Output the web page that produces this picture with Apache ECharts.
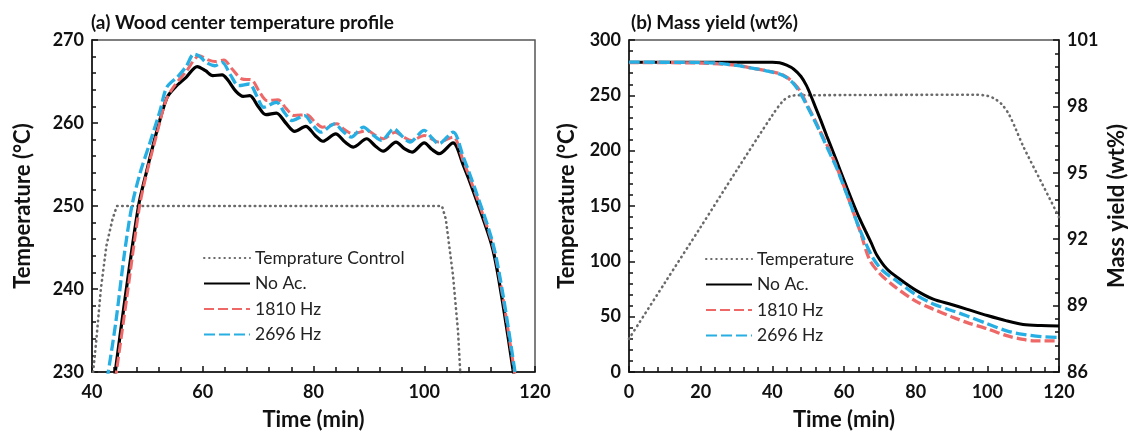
<!DOCTYPE html>
<html>
<head>
<meta charset="utf-8">
<script src="https://cdn.jsdelivr.net/npm/echarts@6/dist/echarts.min.js"></script>
<style>
html,body{margin:0;padding:0;background:#fff;}
#chart{width:1131px;height:436px;}
</style>
</head>
<body>
<div id="chart"></div>
<script>
// ---------- Panel (a): Wood center temperature profile ----------
const controlA = [[40.2,230],[40.8,234],[41.6,240],[42.6,245.2],[43.7,248.4],[44.5,250],[103.2,250],[103.9,248.4],[105.2,241.6],[106.1,234.9],[106.5,230],[106.7,228]];
const noAcA = [[44,229],[46,239],[48.4,250],[49.8,254],[51.5,258.5],[53.5,263],[55,264.3],[57,265.5],[59,266.8],[60.5,266.3],[61.8,265.7],[63.5,265.8],[64.5,265.2],[66,263.8],[67.3,263.2],[68.5,263.3],[70,262],[71.4,261],[73.3,261.2],[75,260],[76.6,259],[78.6,259.6],[80.3,258.5],[81.7,257.8],[84,258.7],[85.7,257.7],[87.2,257.1],[89.6,258.1],[91.2,257.2],[92.6,256.6],[94.9,257.7],[96.4,256.9],[97.8,256.5],[100,257.6],[101.4,256.8],[102.7,256.3],[105.2,257.6],[107,255],[109,251.5],[112.3,245],[114,239],[116.2,229.5]];
const hz1810A = [[44.2,229],[46.3,239],[48.6,250],[50,254.3],[51.6,258.4],[53.4,262.8],[55,264.6],[57,266.2],[59.4,268.1],[61,267.6],[62.2,267.4],[63.8,267.6],[65.3,266.5],[67.1,265.3],[68.8,265.2],[70.2,263.8],[71.6,262.7],[73.6,262.8],[75,261.8],[76.5,260.9],[78.8,261],[80.3,260.1],[81.6,259.5],[84.2,259.9],[85.6,259.2],[87.1,258.7],[89.7,259.1],[91.2,258.5],[92.6,258.1],[94.8,258.9],[96.3,258.3],[97.7,257.9],[100,258.5],[101.3,258.1],[102.6,257.7],[105.2,258.3],[107,255.5],[109.2,251.6],[112.4,245.2],[114.2,239],[116.4,229.5]];
const hz2696A = [[42.7,229],[44.3,236],[45.8,244],[47.2,250],[48.7,254],[50.5,257.7],[52.3,261.5],[53.5,264.3],[55.5,265.6],[57,266.8],[58.4,268.3],[59.5,268],[60.6,267.3],[62.2,266.9],[63.5,267.3],[65,265.8],[66.5,264.5],[68.4,264.7],[69.8,263.2],[71,261.9],[73.3,262.5],[74.8,261.2],[76.1,260.3],[78.4,260.9],[79.8,259.8],[81.3,258.9],[83.8,259.9],[85.3,259],[86.8,258.3],[89,259.5],[90.7,258.6],[92.3,257.9],[94.5,259.3],[96,258.4],[97.4,257.7],[100,259.1],[101.4,258.2],[102.6,257.5],[105.2,258.9],[107,256],[109.2,252],[112.4,245.5],[114.3,239],[116.5,229.5]];

// ---------- Panel (b): Mass yield ----------
const tempB = [[0,30],[10,80.6],[20,131],[30,182],[40,232],[43,245],[45,249.3],[47,250],[97,250.5],[100,249.5],[102,247],[104,242],[106,233],[108,219],[110,204],[115,172],[120,140]];
const noAcB = [[0,100],[40,100],[42,99.97],[44,99.86],[46,99.68],[48,99.35],[49.5,98.95],[50.6,98.55],[52,97.98],[53.5,97.38],[55.2,96.66],[57,95.93],[58.9,95.13],[60.8,94.33],[62.6,93.6],[64.3,92.95],[66,92.37],[67.6,91.83],[69.1,91.3],[72,90.65],[75.6,90.19],[80,89.7],[84.9,89.29],[90,89.05],[94.2,88.84],[100,88.55],[105.4,88.31],[110,88.15],[115,88.1],[120,88.08]];
const hz1810B = [[0,99.98],[20,99.96],[30,99.86],[34.7,99.72],[38,99.62],[42.1,99.48],[44,99.32],[45.8,99.08],[47.8,98.68],[49.6,98.1],[51.5,97.5],[53.3,96.9],[55.7,96.1],[58,95.25],[61,93.95],[64.5,92.35],[67.2,91.05],[70,90.45],[73.8,89.9],[80,89.2],[84.9,88.84],[90,88.5],[94.2,88.24],[100,87.95],[105.4,87.64],[110,87.47],[112.9,87.41],[120,87.41]];
const hz2696B = [[0,100],[20,99.98],[25,99.95],[30,99.85],[34.7,99.72],[38,99.62],[42.1,99.46],[44,99.3],[45.8,99.05],[47.8,98.6],[49.6,98.05],[51.5,97.45],[53.3,96.85],[55.7,96.0],[58,95.2],[61.2,93.85],[64.5,92.4],[68.2,91.12],[71,90.55],[74.7,90.12],[80,89.5],[84.9,89.07],[90,88.78],[94.2,88.54],[100,88.18],[105.4,87.86],[110,87.7],[115,87.6],[120,87.56]];

const FONT = 'Lato, "Open Sans", sans-serif';
const RED = '#EE6868';
const BLUE = '#27AEE2';
const GRAY = '#6a6a6a';

const chart = echarts.init(document.getElementById('chart'), null, {renderer: 'canvas'});

const tickLabel = {fontFamily: FONT, fontWeight: 'bold', fontSize: 18, color: '#111'};
const nameStyle = {fontFamily: FONT, fontWeight: 'bold', fontSize: 22, color: '#111'};

function xAx(gridIndex, min, max) {
  return {
    type: 'value', gridIndex, min, max, interval: 20,
    name: 'Time (min)', nameLocation: 'middle', nameGap: 37, nameTextStyle: nameStyle,
    axisLine: {show: true, lineStyle: {color: '#111', width: 1.5}},
    axisTick: {show: true, inside: true, length: 6, lineStyle: {color: '#111', width: 1.5}},
    minorTick: {show: true, splitNumber: 5, length: 5, lineStyle: {color: '#111', width: 1.5}},
    axisLabel: Object.assign({margin: 11}, tickLabel),
    splitLine: {show: false}
  };
}
function yAx(gridIndex, min, max, interval, name, position, nameGap) {
  return {
    type: 'value', gridIndex, min, max, interval, position,
    name, nameLocation: 'middle', nameGap, nameTextStyle: nameStyle,
    axisLine: {show: true, onZero: false, lineStyle: {color: '#111', width: 1.5}},
    axisTick: {show: true, inside: true, length: 6, lineStyle: {color: '#111', width: 1.5}},
    minorTick: {show: true, splitNumber: 5, length: 4, lineStyle: {color: '#111', width: 1.5}},
    axisLabel: Object.assign({margin: 8}, tickLabel),
    splitLine: {show: false}
  };
}

function lineSeries(name, data, xi, yi, color, type, width, smooth) {
  return {
    name, type: 'line', data, xAxisIndex: xi, yAxisIndex: yi,
    showSymbol: false, symbol: 'none', smooth: smooth,
    lineStyle: {color, width, type, cap: (Array.isArray(type) && type[0] < 2) ? 'round' : 'butt'},
    itemStyle: {color},
    emphasis: {disabled: true}, animation: false, z: 2
  };
}

const dotType = [0.5, 4.6];
const redDash = [10, 4];
const blueDash = [11, 4];

const legendBase = {
  orient: 'vertical', itemWidth: 46, itemHeight: 14, itemGap: 7.5,
  itemStyle: {opacity: 0},
  textStyle: {fontFamily: FONT, fontSize: 17.5, color: '#222'}, selectedMode: false
};

const option = {
  animation: false,
  backgroundColor: '#fff',
  title: [
    {text: '(a) Wood center temperature profile', left: 86, top: 8,
      textStyle: {fontFamily: FONT, fontWeight: 'bold', fontSize: 19, color: '#111'}},
    {text: '(b) Mass yield (wt%)', left: 626, top: 8,
      textStyle: {fontFamily: FONT, fontWeight: 'bold', fontSize: 19, color: '#111'}}
  ],
  grid: [
    {left: 92, right: 596, top: 40, bottom: 63, show: true, borderColor: '#555', borderWidth: 1.5},
    {left: 629, right: 72, top: 40, bottom: 63, show: true, borderColor: '#555', borderWidth: 1.5}
  ],
  legend: [
    Object.assign({left: 198, top: 244, data: ['Temprature Control', 'No Ac.', '1810 Hz', '2696 Hz']}, legendBase),
    Object.assign({left: 700, top: 245, data: ['Temperature', 'No Ac. ', '1810 Hz ', '2696 Hz ']}, legendBase)
  ],
  xAxis: [xAx(0, 40, 120), xAx(1, 0, 120)],
  yAxis: [
    yAx(0, 230, 270, 10, 'Temperature (°C)', 'left', 58),
    yAx(1, 0, 300, 50, 'Temperature (°C)', 'left', 51),
    yAx(1, 86, 101, 3, 'Mass yield (wt%)', 'right', 47)
  ],
  series: [
    lineSeries('Temprature Control', controlA, 0, 0, GRAY, dotType, 2.6, false),
    lineSeries('No Ac.', noAcA, 0, 0, '#000', 'solid', 3.2, 0.3),
    lineSeries('1810 Hz', hz1810A, 0, 0, RED, redDash, 3, 0.3),
    lineSeries('2696 Hz', hz2696A, 0, 0, BLUE, blueDash, 3.3, 0.3),
    lineSeries('Temperature', tempB, 1, 1, GRAY, dotType, 2.6, 0.3),
    lineSeries('No Ac. ', noAcB, 1, 2, '#000', 'solid', 3, 0.3),
    lineSeries('1810 Hz ', hz1810B, 1, 2, RED, redDash, 3.3, 0.3),
    lineSeries('2696 Hz ', hz2696B, 1, 2, BLUE, blueDash, 3.3, 0.3)
  ]
};
chart.setOption(option);
</script>
</body>
</html>
